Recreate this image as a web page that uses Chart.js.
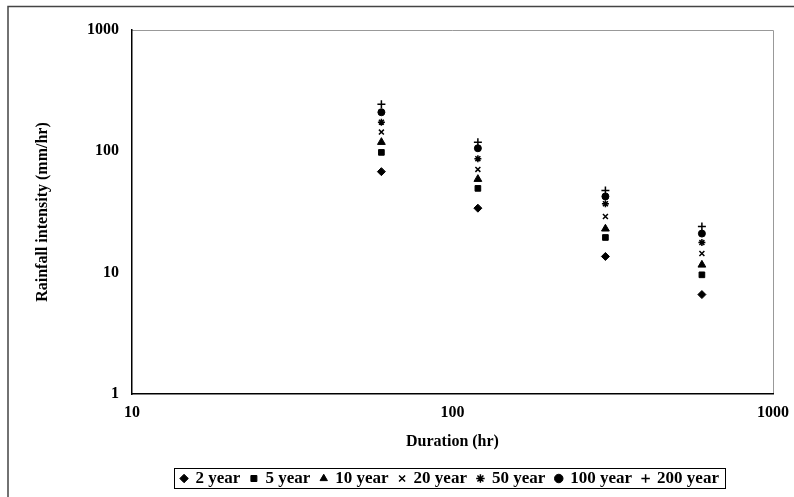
<!DOCTYPE html>
<html>
<head>
<meta charset="utf-8">
<script src="https://cdn.jsdelivr.net/npm/chart.js@4/dist/chart.umd.min.js"></script>
<style>
html,body{margin:0;padding:0;background:#fff;}
#wrap{position:relative;width:794px;height:497px;}
</style>
</head>
<body>
<div id="wrap"><canvas id="c" width="794" height="497"></canvas></div>
<script>
const durations = [60, 120, 300, 600];
const seriesNames = ['2 year', '5 year', '10 year', '20 year', '50 year', '100 year', '200 year'];
const y2   = [68, 34, 13.6, 6.6];
const y5   = [98, 49.5, 19.5, 9.6];
const y10  = [119, 59, 23, 11.6];
const y20  = [144, 71, 29, 14.4];
const y50  = [174, 87, 37, 17.7];
const y100 = [210, 106, 42.5, 21];
const y200 = [244, 119, 47.6, 24];
const xTicks = [10, 100, 1000];
const yTicks = [1, 10, 100, 1000];

const seriesValues = [y2, y5, y10, y20, y50, y100, y200];
const styles = ['rectRot', 'rect', 'triangle', 'crossRot', 'star', 'circle', 'cross'];
const radii = [4, 4, 4.5, 3.5, 3.5, 3.5, 4];
const isLine = s => (s === 'cross' || s === 'crossRot' || s === 'star');

const datasets = seriesNames.map((name, i) => ({
  label: name,
  data: durations.map((d, j) => ({x: d, y: seriesValues[i][j]})),
  pointStyle: styles[i],
  pointRadius: radii[i],
  pointBackgroundColor: '#000',
  pointBorderColor: '#000',
  pointBorderWidth: isLine(styles[i]) ? 1.5 : 1,
  backgroundColor: '#000',
  borderColor: '#000',
  borderWidth: isLine(styles[i]) ? 1.5 : 1,
  showLine: false
}));

const frame = {
  id: 'frame',
  afterLayout(chart) {
    const lg = chart.legend;
    if (lg) { lg.left = 127; }
  },
  beforeDraw(chart) {
    const ctx = chart.ctx;
    const a = chart.chartArea;
    ctx.save();
    ctx.strokeStyle = '#444';
    ctx.lineWidth = 1.5;
    ctx.beginPath();
    ctx.moveTo(8, 497);
    ctx.lineTo(8, 6.5);
    ctx.lineTo(794, 6.5);
    ctx.stroke();
    ctx.strokeStyle = '#999';
    ctx.lineWidth = 1;
    ctx.beginPath();
    ctx.moveTo(a.left, a.top + 0.5);
    ctx.lineTo(a.right + 0.5, a.top + 0.5);
    ctx.lineTo(a.right + 0.5, a.bottom);
    ctx.stroke();
    ctx.restore();
  },
  afterDraw(chart) {
    const lg = chart.legend;
    if (!lg || !lg.legendHitBoxes || !lg.legendHitBoxes.length) return;
    const boxes = lg.legendHitBoxes;
    let l = Infinity, r = -Infinity, t = Infinity, b = -Infinity;
    boxes.forEach(h => {
      l = Math.min(l, h.left); r = Math.max(r, h.left + h.width);
      t = Math.min(t, h.top); b = Math.max(b, h.top + h.height);
    });
    const ctx = chart.ctx;
    ctx.save();
    ctx.strokeStyle = '#000';
    ctx.lineWidth = 1;
    ctx.strokeRect(Math.round(l - 7) + 0.5, Math.round(t - 2) + 0.5, Math.round(r - l + 13), Math.round(b - t + 3));
    ctx.restore();
  }
};

const serif = "'Liberation Serif', 'Times New Roman', serif";

new Chart(document.getElementById('c'), {
  type: 'scatter',
  data: { datasets },
  plugins: [frame],
  options: {
    responsive: false,
    animation: false,
    devicePixelRatio: 1,
    layout: { padding: { left: 0, right: 21, top: 30, bottom: 0 } },
    plugins: {
      legend: {
        position: 'bottom',
        labels: {
          usePointStyle: true,
          boxWidth: 6,
          boxHeight: 6,
          padding: 2,
          color: '#000',
          font: { family: serif, size: 17, weight: 'bold' },
          generateLabels: chart => {
            const base = Chart.defaults.plugins.legend.labels.generateLabels(chart);
            return base.map((it, i) => Object.assign(it, {
              text: i < base.length - 1 ? it.text + '  ' : it.text
            }));
          }
        }
      },
      tooltip: { enabled: false }
    },
    scales: {
      x: {
        type: 'logarithmic',
        min: 10, max: 1000,
        afterBuildTicks: s => { s.ticks = xTicks.map(v => ({value: v})); },
        afterFit: s => { s.height = 74; },
        grid: { display: false, drawTicks: true, tickLength: 5, tickColor: '#000' },
        border: { display: true, color: '#000', width: 1.5 },
        ticks: {
          color: '#000', padding: 4, maxRotation: 0,
          font: { family: serif, size: 16, weight: 'bold' },
          callback: v => String(v)
        },
        title: {
          display: true, text: 'Duration (hr)', color: '#000',
          font: { family: serif, size: 16, weight: 'bold' },
          padding: { top: 8, bottom: 17 }
        }
      },
      y: {
        type: 'logarithmic',
        min: 1, max: 1000,
        afterBuildTicks: s => { s.ticks = yTicks.map(v => ({value: v})); },
        afterFit: s => { s.width = 132; },
        grid: { display: false, drawTicks: true, tickLength: 5, tickColor: '#000' },
        border: { display: true, color: '#000', width: 1.5 },
        ticks: {
          color: '#000', padding: 8,
          font: { family: serif, size: 16, weight: 'bold' },
          callback: v => String(v)
        },
        title: {
          display: true, text: 'Rainfall intensity (mm/hr)', color: '#000',
          font: { family: serif, size: 16, weight: 'bold' },
          padding: { top: 33, bottom: 0 }
        }
      }
    }
  }
});
</script>
</body>
</html>
